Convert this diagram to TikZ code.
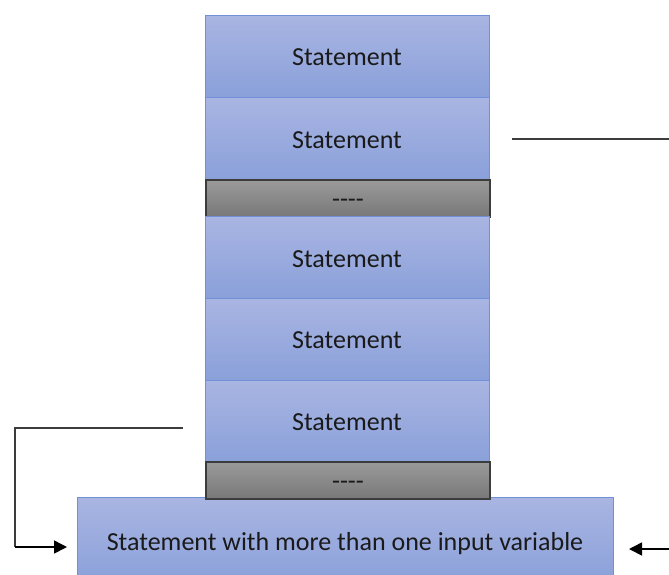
\documentclass[tikz,border=0pt]{standalone}
\usepackage{fontspec}
\setmainfont{Carlito}
\usetikzlibrary{arrows.meta,calc}
\definecolor{btop}{HTML}{A9B5E2}
\definecolor{bbot}{HTML}{8AA0DA}
\definecolor{bline}{HTML}{7290D8}
\definecolor{gtop}{HTML}{9A9A9A}
\definecolor{gbot}{HTML}{787878}
\definecolor{gline}{HTML}{3C3C3C}
\definecolor{txt}{HTML}{1A1A1A}
\tikzset{
  sbox/.style={draw=bline, line width=0.8pt, top color=btop, bottom color=bbot,
    minimum width=284pt, minimum height=82pt, inner sep=0pt, outer sep=0pt,
    text height=20pt, text depth=1pt,
    font=\fontsize{26}{30}\selectfont, text=txt},
  gbox/.style={draw=gline, line width=1.2pt, top color=gtop, bottom color=gbot,
    minimum width=284pt, minimum height=37pt, inner sep=0pt, outer sep=0pt,
    text height=20pt, text depth=3pt,
    font=\fontsize{26}{30}\selectfont, text=txt},
  wire/.style={draw=gline, line width=1.2pt},
  arr/.style={draw=black, line width=1.6pt, -{Triangle[length=13pt,width=13pt]}}
}
\begin{document}
\begin{tikzpicture}[x=1pt,y=-1pt]
\useasboundingbox (0,0) rectangle (669,574);
\node[sbox, minimum width=536pt, minimum height=88pt] (b) at (345,541) {Statement with more than one input variable};
\node[sbox] (s1) at (347,56) {Statement};
\node[sbox] (s2) at (347,138.5) {Statement};
\node[gbox] (g1) at (348,198.5) {{-}{-}{-}{-}};
\node[sbox] (s3) at (347,257.5) {Statement};
\node[sbox] (s4) at (347,339) {Statement};
\node[sbox] (s5) at (347,421) {Statement};
\node[gbox] (g2) at (348,480.5) {{-}{-}{-}{-}};
\coordinate (c1) at (512,139);
\coordinate (c1e) at (669,139);
\coordinate (c2) at (183,428);
\coordinate (c2a) at (15,428);
\coordinate (c3) at (669,549);
\draw[wire] (c1) -- (c1e);
\draw[wire] (c2) -- (c2a) -- (15,547);
\draw[arr] (15,547) -- ($(b.west)+(-10,6)$);
\draw[arr] (c3) -- ($(b.east)+(16,8)$);
\end{tikzpicture}
\end{document}
